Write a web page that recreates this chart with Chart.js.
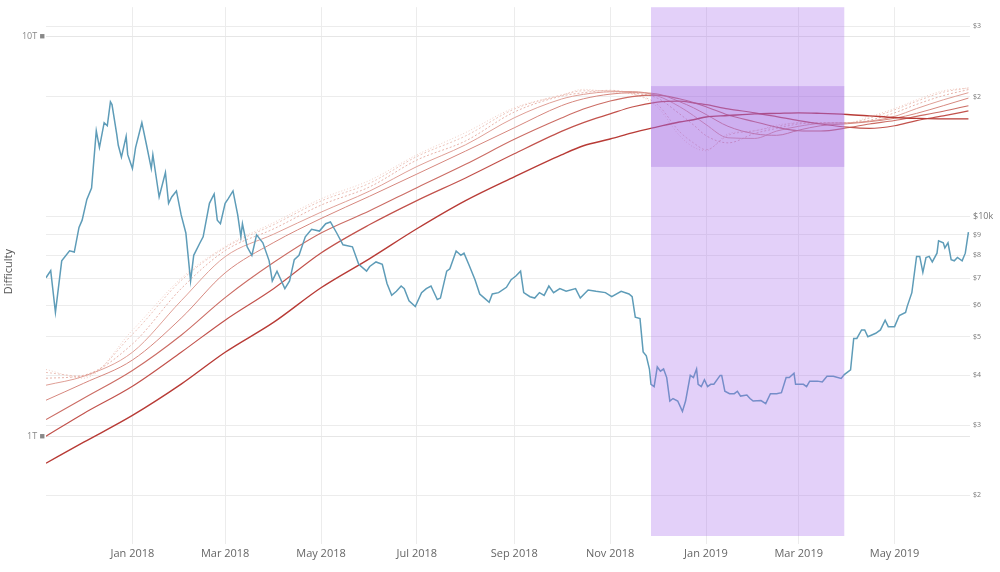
<!DOCTYPE html>
<html><head><meta charset="utf-8">
<script src="https://cdn.jsdelivr.net/npm/chart.js@4.4.1/dist/chart.umd.min.js"></script>
<style>html,body{margin:0;padding:0;background:#fff;}canvas{display:block}</style>
</head><body>
<canvas id="c" width="1000" height="572"></canvas>
<script>
// ---------- DATA ----------
const xRange = ['2017-11-07', '2019-06-18'];
const xTickDates = ['2018-01-01','2018-03-01','2018-05-01','2018-07-01','2018-09-01','2018-11-01','2019-01-01','2019-03-01','2019-05-01'];
const xTickLabels = ['Jan 2018','Mar 2018','May 2018','Jul 2018','Sep 2018','Nov 2018','Jan 2019','Mar 2019','May 2019'];

const diffRange = [0.563, 11.81]; // trillions
const diffTicks = [1, 10];
const diffTickLabels = ['1T ■', '10T ■'];

const priceRange = [1583, 33500];
const priceTicks = [2000,3000,4000,5000,6000,7000,8000,9000,10000,20000,30000];
const priceTickLabels = ['$2','$3','$4','$5','$6','$7','$8','$9','$10k','$2','$3'];

const bandDates = ['2018-11-27', '2019-03-30'];
const bandInnerDifficulty = [4.71, 7.5];

const priceDates = [
'2017-11-07','2017-11-10','2017-11-13','2017-11-17','2017-11-22','2017-11-25','2017-11-28','2017-11-30','2017-12-03','2017-12-06',
'2017-12-09','2017-12-11','2017-12-14','2017-12-16','2017-12-18','2017-12-19','2017-12-22','2017-12-23','2017-12-25','2017-12-28',
'2017-12-29','2018-01-01','2018-01-03','2018-01-07','2018-01-10','2018-01-13','2018-01-14','2018-01-18','2018-01-22','2018-01-24',
'2018-01-26','2018-01-29','2018-02-01','2018-02-04','2018-02-07','2018-02-09','2018-02-13','2018-02-15','2018-02-19','2018-02-22',
'2018-02-24','2018-02-26','2018-03-01','2018-03-03','2018-03-06','2018-03-09','2018-03-11','2018-03-12','2018-03-15','2018-03-18',
'2018-03-21','2018-03-25','2018-03-29','2018-03-31','2018-04-03','2018-04-08','2018-04-11','2018-04-14','2018-04-17','2018-04-21',
'2018-04-25','2018-04-30','2018-05-04','2018-05-07','2018-05-11','2018-05-15','2018-05-21','2018-05-25','2018-05-30','2018-06-01',
'2018-06-05','2018-06-09','2018-06-12','2018-06-15','2018-06-18','2018-06-21','2018-06-23','2018-06-26','2018-06-30','2018-07-04',
'2018-07-07','2018-07-10','2018-07-14','2018-07-16','2018-07-20','2018-07-22','2018-07-26','2018-07-29','2018-07-31','2018-08-03',
'2018-08-07','2018-08-10','2018-08-13','2018-08-16','2018-08-18','2018-08-22','2018-08-27','2018-08-30','2018-09-02','2018-09-05',
'2018-09-07','2018-09-11','2018-09-14','2018-09-17','2018-09-20','2018-09-23','2018-09-26','2018-09-30','2018-10-04','2018-10-10',
'2018-10-13','2018-10-18','2018-10-23','2018-10-29','2018-11-02','2018-11-08','2018-11-13','2018-11-15','2018-11-17','2018-11-20',
'2018-11-22','2018-11-24','2018-11-26','2018-11-27','2018-11-29','2018-12-01','2018-12-03','2018-12-05','2018-12-07','2018-12-09',
'2018-12-11','2018-12-14','2018-12-17','2018-12-19','2018-12-22','2018-12-24','2018-12-26','2018-12-27','2018-12-29','2018-12-31',
'2019-01-02','2019-01-04','2019-01-06','2019-01-10','2019-01-11','2019-01-13','2019-01-16','2019-01-19','2019-01-21','2019-01-23',
'2019-01-27','2019-01-29','2019-01-31','2019-02-05','2019-02-08','2019-02-11','2019-02-15','2019-02-18','2019-02-21','2019-02-23',
'2019-02-26','2019-02-27','2019-03-04','2019-03-06','2019-03-08','2019-03-13','2019-03-16','2019-03-19','2019-03-23','2019-03-28',
'2019-03-30','2019-04-03','2019-04-05','2019-04-07','2019-04-10','2019-04-12','2019-04-14','2019-04-19','2019-04-22','2019-04-25',
'2019-04-27','2019-05-01','2019-05-04','2019-05-08','2019-05-09','2019-05-12','2019-05-15','2019-05-17','2019-05-19','2019-05-21',
'2019-05-23','2019-05-25','2019-05-28','2019-05-29','2019-06-01','2019-06-02','2019-06-04','2019-06-06','2019-06-08','2019-06-10',
'2019-06-13','2019-06-15','2019-06-17'];
const priceValues = [
7030,7320,5760,7750,8210,8150,9400,9800,11050,11800,
16400,14900,17200,16900,19400,19100,16100,15100,14100,15900,
14300,13200,14900,17200,15100,13200,14300,11200,12900,10800,
11200,11600,10100,9100,6900,8000,8600,8900,10800,11400,
9800,9600,10800,11100,11600,10100,8900,9600,8400,8000,
9000,8600,7750,6900,7300,6600,6900,7800,8000,8900,
9300,9200,9600,9700,9100,8500,8400,7600,7300,7500,
7700,7600,6800,6350,6500,6700,6600,6150,5950,6450,
6600,6700,6200,6250,7300,7400,8200,8000,8100,7600,
6950,6400,6250,6100,6400,6450,6650,6950,7100,7300,
6450,6300,6250,6450,6350,6700,6450,6600,6500,6600,
6250,6550,6500,6450,6300,6500,6400,6300,5600,5550,
4580,4480,4150,3800,3750,4200,4100,4150,3950,3450,
3500,3450,3250,3450,4000,3950,4150,3800,3750,3900,
3750,3800,3800,4000,4000,3650,3600,3600,3650,3550,
3570,3500,3450,3460,3400,3600,3600,3620,3950,3950,
4050,3800,3800,3750,3870,3870,3850,3980,3980,3930,
4020,4130,4950,4950,5200,5200,5000,5100,5200,5500,
5300,5300,5650,5750,5950,6450,7950,7950,7250,7900,
7950,7700,8100,8700,8600,8350,8600,7800,7750,7900,
7750,8100,9150];

const ribbonDates = ['2017-11-07','2017-12-01','2018-01-01','2018-02-01','2018-03-01','2018-04-01','2018-05-01','2018-06-01','2018-07-01','2018-08-01',
'2018-09-01','2018-10-01','2018-10-15','2018-11-01','2018-11-15','2018-12-01','2018-12-15','2018-12-24','2019-01-01','2019-01-15',
'2019-02-01','2019-02-15','2019-03-01','2019-03-15','2019-04-01','2019-04-15','2019-05-01','2019-05-15','2019-06-01','2019-06-17'];
const ma9   = [1.468,1.396,1.84,2.48,2.98,3.42,3.92,4.36,5.05,5.74,6.62,7.12,7.36,7.25,7.17,6.65,5.65,5.28,5.17,5.70,5.80,5.99,6.07,6.07,6.07,6.29,6.59,6.93,7.30,7.42];
const ma14  = [1.443,1.412,1.798,2.45,2.96,3.38,3.87,4.29,5.00,5.63,6.57,7.12,7.30,7.30,7.17,6.75,5.78,5.41,5.20,5.65,5.80,5.94,6.07,6.07,6.07,6.24,6.54,6.87,7.24,7.42];
const ma25  = [1.396,1.420,1.700,2.337,2.91,3.30,3.78,4.20,4.90,5.47,6.46,7.08,7.22,7.32,7.21,7.00,6.40,6.00,5.64,5.41,5.71,5.88,6.03,6.07,6.07,6.16,6.43,6.75,7.10,7.35];
const ma40  = [1.341,1.412,1.621,2.18,2.81,3.20,3.63,4.10,4.72,5.35,6.25,6.96,7.15,7.26,7.27,7.09,6.67,6.33,6.01,5.57,5.55,5.79,5.95,6.05,6.07,6.13,6.30,6.59,6.93,7.22];
const ma60  = [1.23,1.356,1.55,1.972,2.56,3.05,3.50,3.98,4.52,5.16,5.90,6.70,6.97,7.16,7.22,7.17,6.86,6.62,6.37,5.95,5.70,5.65,5.82,5.97,6.04,6.11,6.23,6.41,6.70,7.00];
const ma90  = [1.10,1.244,1.46,1.788,2.22,2.72,3.22,3.66,4.18,4.78,5.52,6.24,6.57,6.88,7.06,7.12,6.97,6.82,6.66,6.35,6.11,5.92,5.80,5.79,5.90,6.03,6.15,6.30,6.49,6.70];
const ma128 = [1.000,1.140,1.333,1.621,1.95,2.34,2.87,3.38,3.88,4.42,5.08,5.78,6.08,6.39,6.65,6.84,6.88,6.81,6.74,6.58,6.43,6.29,6.15,6.03,5.92,5.88,5.97,6.15,6.32,6.50];
const ma200 = [0.856,0.966,1.127,1.349,1.621,1.928,2.35,2.78,3.30,3.88,4.45,5.05,5.32,5.53,5.73,5.93,6.10,6.18,6.28,6.33,6.39,6.41,6.43,6.41,6.37,6.32,6.26,6.23,6.21,6.21];

// ---------- HELPERS ----------
const day = s => Date.parse(s + 'T00:00:00Z') / 86400000;
const pts = (dates, vals) => dates.map((d, i) => ({x: day(d), y: vals[i]}));
const lookup = (keys, labels) => v => { const i = keys.findIndex(k => Math.abs(k - v) < 1e-6 * Math.max(1, Math.abs(k))); return i >= 0 ? labels[i] : ''; };
const xLabel = lookup(xTickDates.map(day), xTickLabels);
const dLabel = lookup(diffTicks, diffTickLabels);
const pLabel = lookup(priceTicks, priceTickLabels);

const ribbon = [
  {label:'MA200', data: ma200, color:'#b83b36', w:1.4, dash:[]},
  {label:'MA128', data: ma128, color:'#c2524c', w:1.2, dash:[]},
  {label:'MA90',  data: ma90,  color:'#cb6c64', w:1.1, dash:[]},
  {label:'MA60',  data: ma60,  color:'#d6877e', w:1.0, dash:[]},
  {label:'MA40',  data: ma40,  color:'#df9f96', w:1.0, dash:[]},
  {label:'MA25',  data: ma25,  color:'#e7b3aa', w:1.0, dash:[2,2]},
  {label:'MA14',  data: ma14,  color:'#ecc3ba', w:1.0, dash:[2,2]},
  {label:'MA9',   data: ma9,   color:'#f0cfc6', w:1.0, dash:[1,2]}
];

const bandPlugin = {
  id: 'band',
  afterDatasetsDraw(chart) {
    const {ctx, chartArea: a, scales} = chart;
    const x0 = scales.x.getPixelForValue(day(bandDates[0]));
    const x1 = scales.x.getPixelForValue(day(bandDates[1]));
    ctx.save();
    ctx.fillStyle = 'rgba(168,110,235,0.32)';
    ctx.fillRect(x0, a.top, x1 - x0, a.bottom - a.top);
    const yTop = scales.yD.getPixelForValue(bandInnerDifficulty[1]);
    const yBot = scales.yD.getPixelForValue(bandInnerDifficulty[0]);
    ctx.fillStyle = 'rgba(150,90,220,0.28)';
    ctx.fillRect(x0, yTop, x1 - x0, yBot - yTop);
    ctx.restore();
  }
};

const datasets = [
  {label:'Price', data: pts(priceDates, priceValues), yAxisID:'yP', borderColor:'#5e9cb8', borderWidth:1.5, pointRadius:0, tension:0, fill:false}
].concat(ribbon.map(r => ({
  label: r.label, data: pts(ribbonDates, r.data), yAxisID:'yD', borderColor: r.color, borderWidth: r.w,
  borderDash: r.dash, pointRadius:0, cubicInterpolationMode:'monotone', fill:false
})));

new Chart(document.getElementById('c'), {
  type: 'line',
  data: {datasets},
  plugins: [bandPlugin],
  options: {
    responsive: false, animation: false, devicePixelRatio: 1,
    layout: {padding: {top: 6, left: 0, right: 0, bottom: 0}},
    plugins: {legend: {display:false}, tooltip: {enabled:false}},
    scales: {
      x: {
        type:'linear', min: day(xRange[0]), max: day(xRange[1]),
        afterBuildTicks: s => { s.ticks = xTickDates.map(d => ({value: day(d)})); },
        afterFit: s => { s.height = 36; },
        grid: {color:'#ececec', tickLength: 8},
        border: {display:false},
        ticks: {autoSkip:false, maxRotation:0, padding:3, color:'#666', font:{family:'Open Sans', size:11}, callback: v => xLabel(v)}
      },
      yD: {
        type:'logarithmic', position:'left', min: diffRange[0], max: diffRange[1],
        afterBuildTicks: s => { s.ticks = diffTicks.map(v => ({value: v})); },
        afterFit: s => { s.width = 46; },
        grid: {color:'#e6e6e6', drawTicks:false},
        border: {display:false},
        title: {display:true, text:'Difficulty', color:'#555', font:{family:'Open Sans', size:11}, padding:{top:2, bottom:0}},
        ticks: {padding:1, color:'#888', font:{family:'Open Sans', size:9}, callback: v => dLabel(v)}
      },
      yP: {
        type:'logarithmic', position:'right', min: priceRange[0], max: priceRange[1],
        afterBuildTicks: s => { s.ticks = priceTicks.map(v => ({value: v})); },
        afterFit: s => { s.width = 30; },
        grid: {color:'#ececec', drawTicks:false},
        border: {display:false},
        ticks: {padding:3, color:'#777',
          font: c => ({family:'Open Sans', size: (c.tick && c.tick.value === 10000) ? 9 : 7}),
          callback: v => pLabel(v)}
      }
    }
  }
});
</script>
</body></html>
